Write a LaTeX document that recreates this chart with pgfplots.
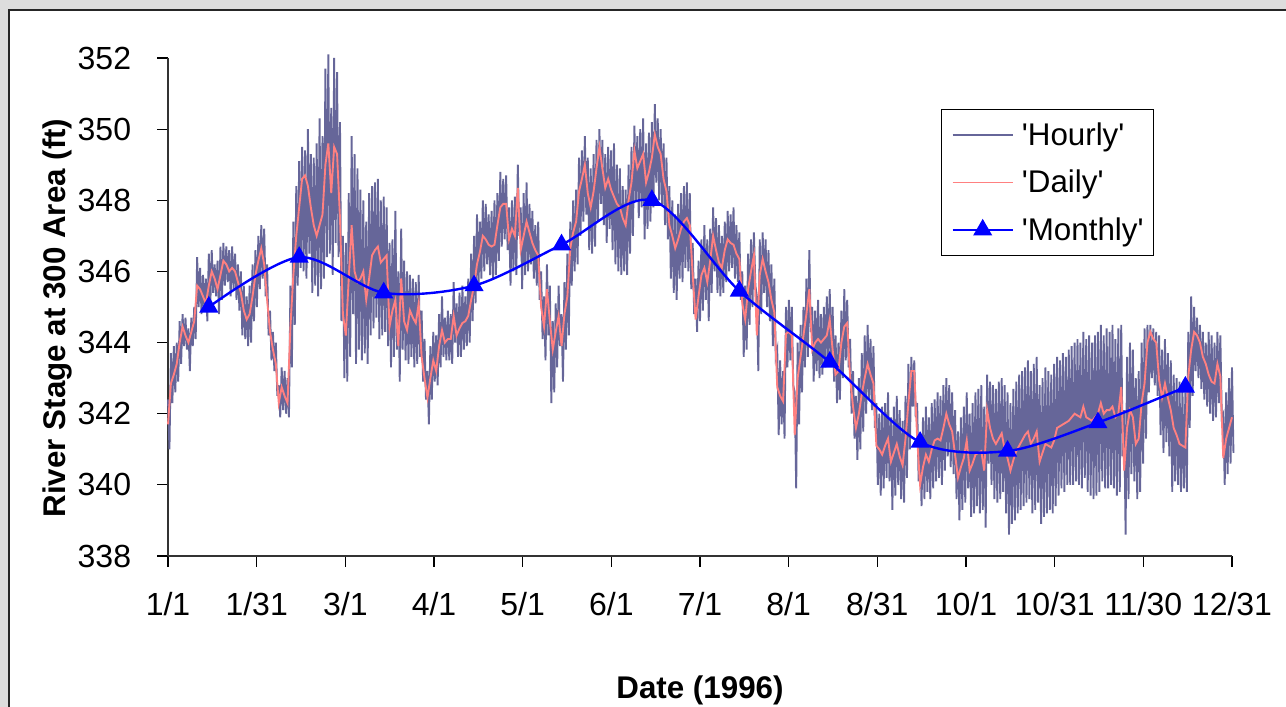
\documentclass[border=0pt]{standalone}
\usepackage{fontspec}
\setmainfont{Liberation Sans}
\usepackage{pgfplots}
\usepackage{pgfplotstable}
\pgfplotsset{compat=1.18}
\definecolor{hourly}{RGB}{102,102,153}
\definecolor{daily}{RGB}{255,128,128}
\definecolor{monthly}{RGB}{0,0,255}
\definecolor{bggray}{RGB}{221,221,221}

% daily means, one value per day starting 1/1/1996
\pgfplotstableread[header=false]{
341.7
342.85
343.1
343.4
344.0
344.45
344.2
344.0
344.3
344.6
345.6
345.5
345.3
345.1
345.6
346.0
345.8
345.5
345.9
346.3
346.2
346.0
346.1
346.0
345.7
345.4
344.9
344.65
344.8
345.3
345.9
346.3
346.65
346.2
345.2
344.3
343.8
343.4
342.3
342.75
342.5
342.3
344.45
345.9
347.0
347.8
348.6
348.7
348.4
347.8
347.3
347.0
347.3
347.6
349.0
349.6
348.2
349.5
349.3
347.5
344.8
344.2
345.8
347.3
346.0
345.7
345.8
346.0
345.2
345.8
346.45
346.6
346.7
346.25
346.35
346.45
344.45
344.9
345.2
343.9
345.8
344.6
344.35
344.9
344.7
344.55
345.1
343.6
343.0
342.45
343.0
343.5
343.2
343.9
344.35
344.0
344.1
344.1
344.75
344.2
344.4
344.55
344.6
344.75
345.2
345.6
346.2
346.55
347.0
346.9
346.75
346.7
346.75
347.3
347.8
347.9
347.9
346.9
347.2
347.0
348.35
346.6
347.0
347.4
347.1
346.8
346.6
346.45
345.0
344.45
345.5
344.6
343.8
344.3
344.75
343.9
344.8
345.3
346.65
347.1
347.4
348.25
348.6
349.0
348.2
347.8
348.25
348.9
349.5
348.9
348.35
348.6
348.3
348.1
347.9
347.8
347.5
347.3
348.0
348.5
349.4
348.9
349.1
349.3
348.5
348.8
349.2
349.85
349.5
349.3
348.6
348.25
347.3
347.0
346.65
346.9
347.2
347.4
347.5
347.3
345.9
344.65
345.3
345.9
346.1
345.7
346.3
347.0
346.6
346.25
346.1
346.6
346.9
346.8
346.75
346.5
346.35
345.1
344.65
345.5
346.0
346.45
344.2
345.9
346.35
346.0
345.7
345.2
344.85
342.75
342.5
342.35
344.25
344.3
344.2
341.4
343.0
343.6
344.2
344.8
345.5
343.8
344.0
344.1
344.0
344.1
344.2
344.65
343.8
343.1
343.2
344.0
344.45
344.55
343.0
342.2
341.6
342.0
342.55
343.0
343.4
343.1
342.85
341.1
341.0
340.85
341.1
341.3
340.65
340.9
341.15
340.8
340.55
341.3
342.3
343.2
343.2
341.3
340.0
340.5
340.85
340.65
341.0
341.25
341.3
341.25
341.6
342.0
341.7
341.5
340.85
340.2
340.5
340.75
341.25
340.4
340.6
340.85
340.9
340.95
340.4
342.1
341.6
341.3
341.15
341.3
341.45
341.0
340.75
340.4
340.7
340.95
341.1
341.25
341.4
341.5
341.15
341.3
341.5
340.65
340.9
341.15
341.1
341.05
341.25
341.6
341.65
341.7
341.75
341.8
341.9
342.0
341.95
341.9
342.2
341.9
341.85
341.8
341.9
342.0
342.3
342.0
342.1
342.1
342.2
341.9
342.0
342.75
340.4
341.6
342.1
341.9
341.15
341.3
342.3
342.85
344.0
344.3
344.1
344.0
342.95
342.45
342.85
342.45
342.1
341.6
341.4
341.15
341.1
341.05
343.05
343.8
344.3
344.2
344.0
343.6
343.4
343.1
342.9
342.85
343.4
343.05
340.75
341.3
341.6
341.9
}\dailytable

% hourly record, thinned to the daily high and low of each day
\pgfplotstableread[header=false]{
342.4
341.0
343.7
342.3
343.9
342.6
344.0
342.9
344.6
343.4
344.8
343.9
344.7
343.8
344.4
343.2
344.7
343.9
345.0
344.1
346.4
345.0
346.1
344.8
345.9
344.9
345.8
344.6
346.5
345.0
346.6
345.4
346.2
345.3
346.3
344.8
346.7
345.2
346.8
345.6
346.7
345.7
346.6
345.3
346.7
345.5
346.5
345.2
346.2
344.9
346.0
344.2
345.6
344.1
345.3
343.9
345.6
344.0
346.2
344.6
346.6
345.0
347.0
345.5
347.3
345.8
347.2
345.3
346.2
344.2
344.9
343.5
344.3
343.2
344.0
342.5
342.8
341.9
343.3
342.1
343.2
342.0
343.0
341.9
345.6
343.3
347.4
344.5
348.4
345.6
349.1
346.1
349.5
346.0
349.4
345.8
350.0
346.5
349.3
345.4
349.2
345.6
349.6
345.3
350.3
345.5
349.8
345.8
351.7
346.4
352.1
346.5
350.6
345.9
352.0
346.8
351.6
346.4
350.2
344.6
347.0
343.0
346.8
342.9
348.2
343.6
349.8
344.8
349.3
343.4
348.9
343.8
348.3
343.5
348.0
343.7
347.4
343.4
348.2
344.2
348.4
344.4
348.5
344.7
348.6
344.1
348.0
344.2
348.1
344.3
347.8
343.9
346.8
343.3
346.9
343.6
347.7
343.8
346.0
342.9
347.2
343.8
346.3
343.5
346.0
343.4
345.9
343.6
345.8
343.3
345.7
343.4
345.9
343.6
344.9
342.9
344.1
342.4
343.2
341.7
343.9
342.4
344.3
342.9
344.2
342.8
344.8
343.3
345.3
343.6
344.7
343.5
344.9
343.5
344.8
343.4
345.7
344.0
345.1
343.6
345.4
343.6
345.6
343.8
345.3
343.9
345.8
344.0
346.5
344.6
347.0
345.1
347.6
345.5
347.4
345.8
348.0
346.0
347.9
346.2
347.6
345.9
347.7
345.8
348.0
345.9
348.2
346.3
348.8
346.7
348.6
346.9
348.7
346.6
347.8
345.6
348.0
346.0
348.1
345.9
349.0
347.0
347.8
345.5
348.2
345.9
348.5
346.0
347.9
346.2
347.7
345.8
347.3
345.6
347.4
345.2
346.0
344.1
345.3
343.5
346.2
344.2
345.6
342.3
344.6
342.6
345.1
343.3
345.6
343.9
344.8
342.9
345.7
343.8
346.5
344.2
347.4
345.6
348.0
346.0
348.3
346.2
349.2
347.0
349.4
347.4
349.8
347.6
349.2
346.6
348.9
346.5
349.3
346.7
349.7
347.4
350.0
347.9
349.7
347.3
349.3
346.8
349.5
347.2
349.4
346.6
349.6
346.2
349.0
346.0
348.9
345.9
348.4
346.0
348.3
345.9
349.0
346.5
349.5
347.0
350.1
348.0
349.8
347.5
350.0
347.8
350.3
346.9
349.6
347.2
349.9
347.4
350.2
347.8
350.7
348.5
350.3
348.0
350.0
347.9
349.6
347.3
349.2
346.9
348.4
345.8
348.0
345.4
347.6
345.2
347.9
345.8
348.2
345.7
348.4
346.1
348.5
346.0
348.2
345.5
346.8
344.8
345.8
344.3
346.3
344.6
346.9
344.9
347.3
345.2
346.9
344.6
347.2
345.4
347.8
346.0
347.5
345.4
347.3
345.3
347.0
345.4
347.4
345.7
347.7
346.0
347.6
346.1
347.8
345.8
347.3
345.7
347.1
345.2
346.0
343.6
345.6
343.8
346.5
344.5
346.9
345.0
347.1
345.6
345.3
343.2
346.9
344.8
347.1
345.4
346.9
345.0
346.6
344.6
346.2
343.9
345.8
343.6
343.8
341.4
343.5
341.7
343.2
341.3
345.0
343.3
345.2
343.5
345.0
342.8
342.6
339.9
344.0
341.7
344.5
342.6
345.0
343.3
345.8
343.6
346.6
344.3
345.0
342.9
344.9
343.2
345.2
343.0
344.8
343.1
345.0
343.3
345.3
343.4
345.5
343.4
345.0
342.9
344.2
342.3
344.0
342.4
344.9
343.0
345.5
343.5
345.2
343.3
344.1
342.0
343.2
341.3
342.5
340.7
343.0
341.0
343.7
341.5
344.2
342.0
344.5
342.4
344.1
342.1
343.9
341.6
342.3
340.0
342.0
339.7
342.2
339.9
342.3
340.2
342.6
340.1
341.9
339.3
342.2
339.7
342.5
340.0
342.1
339.6
341.8
339.5
342.5
340.2
343.4
341.0
343.6
342.2
343.5
341.9
342.3
340.1
341.4
339.4
341.9
339.6
342.2
339.8
341.9
339.6
342.3
339.9
342.4
340.1
342.6
340.2
342.5
340.0
342.8
340.4
343.0
340.8
342.8
340.5
342.6
340.3
342.1
339.6
341.5
339.0
341.9
339.3
342.2
339.5
342.6
339.9
342.0
339.1
342.3
339.2
342.6
339.4
342.7
339.2
342.8
339.3
342.2
338.8
343.1
340.6
342.9
340.0
342.8
339.6
342.7
339.5
342.9
339.6
343.0
339.8
342.8
339.2
342.6
338.6
342.3
338.9
342.7
339.0
342.9
339.2
343.1
339.3
343.2
339.4
343.3
339.5
343.5
339.6
343.2
339.2
343.4
339.3
343.6
339.5
342.8
338.9
343.0
339.1
343.3
339.2
343.2
339.3
343.1
339.2
343.4
339.4
343.6
339.7
343.5
339.9
343.7
339.8
343.6
340.0
343.8
340.0
343.9
340.0
344.0
340.1
344.1
340.0
344.0
339.9
344.3
340.2
344.1
339.8
344.2
339.7
344.0
339.6
344.2
339.7
344.3
339.8
344.5
340.1
344.2
339.9
344.4
339.9
344.3
340.0
344.5
339.9
344.1
339.7
344.4
339.8
344.5
340.8
342.1
338.6
343.6
339.6
344.0
340.3
343.8
340.1
343.0
339.6
343.2
339.8
344.0
340.6
344.4
341.3
344.5
342.6
344.5
343.0
344.4
342.8
344.3
342.5
344.2
341.4
343.8
340.9
344.1
341.2
343.7
340.8
343.5
339.8
343.1
340.1
343.0
340.0
342.9
339.8
342.7
339.9
342.6
339.8
344.3
341.6
345.3
342.5
345.0
343.2
344.7
343.0
344.5
342.7
344.3
342.4
344.0
342.2
344.3
342.0
344.2
341.8
344.0
341.9
344.3
342.3
344.2
341.9
342.0
340.0
342.6
340.3
343.0
340.6
343.3
340.9
}\hourlytable

\begin{document}
\begin{tikzpicture}
\useasboundingbox (-126pt,-113.25pt) rectangle (838.5pt,417pt);
\fill[bggray] (-126pt,-113.25pt) rectangle (838.5pt,417pt);
\fill[white] (-119.25pt,-113.25pt) rectangle (838.5pt,409.5pt);
\draw[black!85, line width=1.3pt] (-119.25pt,-113.25pt) -- (-119.25pt,409.5pt) -- (838.5pt,409.5pt);
\begin{axis}[
  scale only axis,
  width=798pt, height=373.5pt,
  xmin=0, xmax=365, ymin=338, ymax=352,
  clip=false,
  axis x line*=bottom, axis y line*=left,
  axis line style={black!80, line width=1pt},
  tick align=outside,
  major tick length=8pt,
  tick style={black, line width=0.8pt},
  xtick={0,30.4167,60.8333,91.25,121.6667,152.0833,182.5,212.9167,243.3333,273.75,304.1667,334.5833,365},
  xticklabels={1/1,1/31,3/1,4/1,5/1,6/1,7/1,8/1,8/31,10/1,10/31,11/30,12/31},
  ytick={338,340,...,352},
  /pgf/number format/assume math mode=true,
  yticklabel={\pgfmathprintnumber[fixed,precision=0]{\tick}},
  xticklabel style={font=\fontsize{24}{28}\selectfont, anchor=base, yshift=-36.5pt, inner sep=0pt},
  yticklabel style={font=\fontsize{24}{28}\selectfont, anchor=east, inner sep=0pt, xshift=-19.5pt},
  xlabel={\textbf{Date (1996)}},
  ylabel={\textbf{River Stage at 300 Area (ft)}},
  xlabel style={font=\fontsize{23.5}{27}\selectfont, at={(axis description cs:0.5,-0.269)}, anchor=center},
  ylabel style={font=\fontsize{23.5}{27}\selectfont, at={(axis description cs:-0.104,0.478)}, anchor=center, rotate=0},
  legend cell align=left,
  legend style={at={(rel axis cs:0.7265,0.8976)}, anchor=north west, draw=black, line width=0.75pt, fill=white,
    inner xsep=7.5pt, inner ysep=10pt, row sep=17pt, column sep=6pt,
    font=\fontsize{23.5}{27}\selectfont, nodes={inner sep=0pt}},
  legend image code/.code={\draw[mark repeat=2, mark phase=2, #1] plot coordinates {(0pt,0pt) (22.5pt,0pt) (45pt,0pt)};},
]
\addplot[hourly, line width=1.4pt, no markers] table[x expr=\coordindex/2, y index=0] {\hourlytable};
\addlegendentry{\textquotesingle Hourly\textquotesingle}
\addplot[daily, line width=1.4pt, no markers] table[x expr=\coordindex, y index=0] {\dailytable};
\addlegendentry{\textquotesingle Daily\textquotesingle}
\addplot[monthly, line width=1.8pt, smooth, mark=triangle*, mark size=6.5pt, mark options={solid, fill=monthly}] coordinates {
(14,345.0) (45,346.4) (74,345.4) (105,345.6) (135,346.75) (166,348.0)
(196,345.45) (227,343.45) (258,341.2) (288,340.95) (319,341.75) (349,342.75)};
\addlegendentry{\textquotesingle Monthly\textquotesingle}
\end{axis}
\end{tikzpicture}
\end{document}
